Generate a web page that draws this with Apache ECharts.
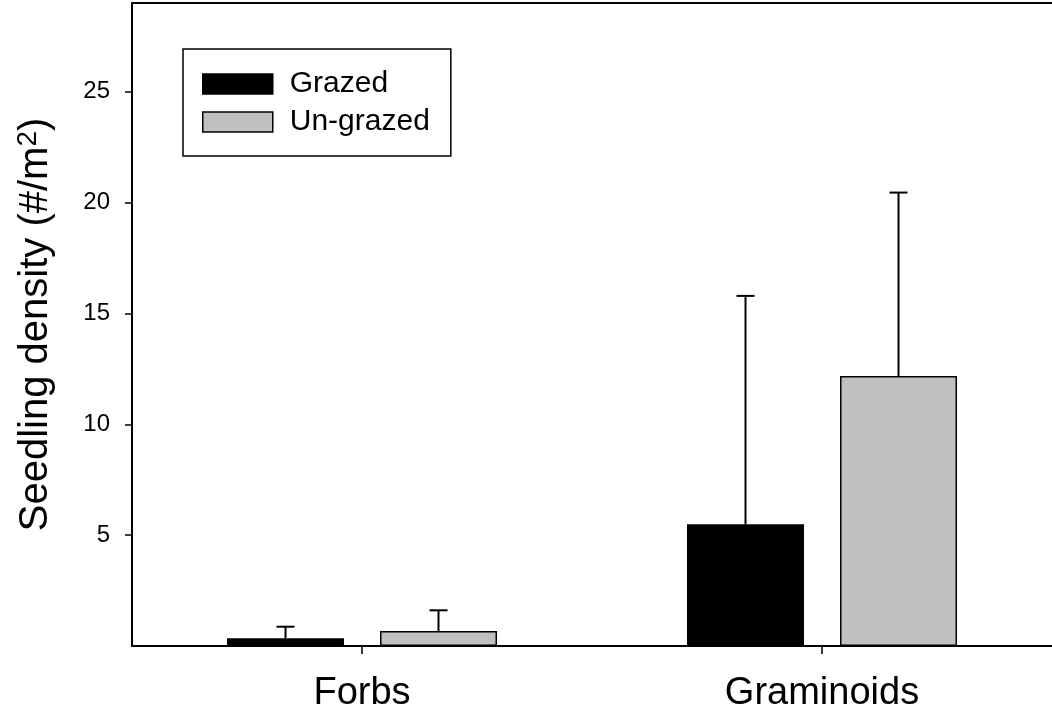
<!DOCTYPE html>
<html>
<head>
<meta charset="utf-8">
<style>
  html, body { margin: 0; padding: 0; background: #fff; }
  #chart { width: 1052px; height: 718px; }
</style>
<script src="https://cdn.jsdelivr.net/npm/echarts@6/dist/echarts.min.js"></script>
</head>
<body>
<div id="chart"></div>
<script>
// Seedling density by plant group, grazed vs un-grazed (mean + SE)
const categories = ['Forbs', 'Graminoids'];
const seriesNames = ['Grazed', 'Un-grazed'];
const grazedMean = [0.35, 5.49];
const grazedErr = [0.52, 10.30];
const ungrazedMean = [0.68, 12.18];
const ungrazedErr = [0.93, 8.27];
const yTicks = [5, 10, 15, 20, 25];

const FONT = '"Liberation Sans", Arial, sans-serif';
const BAR_W = 117;
const BAR_GAP = 36;
const CAP_HALF = 9;

const chart = echarts.init(document.getElementById('chart'));

// Upward error whisker with a cap, placed over the bar of the given series slot
function errorBarSeries(means, errs, slot) {
  const data = means.map((m, i) => [i, m, m + errs[i]]);
  return {
    type: 'custom',
    z: 5,
    silent: true,
    data: data,
    encode: { x: 0, y: [1, 2] },
    renderItem: function (params, api) {
      const off = (slot === 0 ? -1 : 1) * (BAR_W + BAR_GAP) / 2;
      const lo = api.coord([api.value(0), api.value(1)]);
      const hi = api.coord([api.value(0), api.value(2)]);
      const x = lo[0] + off;
      const style = { stroke: '#000', lineWidth: 2 };
      return {
        type: 'group',
        children: [
          { type: 'line', shape: { x1: x, y1: lo[1], x2: x, y2: hi[1] }, style: style },
          { type: 'line', shape: { x1: x - CAP_HALF, y1: hi[1], x2: x + CAP_HALF, y2: hi[1] }, style: style }
        ]
      };
    }
  };
}

chart.setOption({
  animation: false,
  backgroundColor: '#fff',
  textStyle: { fontFamily: FONT },
  grid: { left: 132, right: 0, top: 3, bottom: 72, containLabel: false },
  legend: {
    orient: 'vertical',
    left: 183,
    top: 49,
    padding: [20, 21, 19, 19],
    borderColor: '#000',
    borderWidth: 1.5,
    itemWidth: 70,
    itemHeight: 20,
    itemGap: 8,
    icon: 'rect',
    selectedMode: false,
    data: seriesNames,
    textStyle: { fontFamily: FONT, fontSize: 30, color: '#000', padding: [0, 0, 0, 12] },
    itemStyle: { borderColor: '#000', borderWidth: 1.5 }
  },
  xAxis: [
    {
      type: 'category',
      data: categories,
      axisLine: { show: true, onZero: false, lineStyle: { color: '#000', width: 2 } },
      axisTick: { show: true, alignWithLabel: true, length: 8, lineStyle: { color: '#000', width: 1.5 } },
      axisLabel: { fontFamily: FONT, fontSize: 38, color: '#000', margin: 29 },
      splitLine: { show: false }
    },
    {
      type: 'category',
      position: 'top',
      data: categories,
      axisLine: { show: true, onZero: false, lineStyle: { color: '#000', width: 2 } },
      axisTick: { show: false },
      axisLabel: { show: false },
      splitLine: { show: false }
    }
  ],
  yAxis: [
    {
      type: 'value',
      min: 0,
      max: 29,
      interval: 5,
      name: 'Seedling density (#/m{sup|2})',
      nameLocation: 'middle',
      nameRotate: 90,
      nameGap: 74,
      nameTextStyle: {
        fontFamily: FONT, fontSize: 40, color: '#000',
        rich: {
          sup: { fontFamily: FONT, fontSize: 28, color: '#000', verticalAlign: 'top', padding: [0, 0, 16, 0] }
        }
      },
      axisLine: { show: true, lineStyle: { color: '#000', width: 2 } },
      axisTick: { show: true, length: 7, customValues: yTicks, lineStyle: { color: '#000', width: 1.5 } },
      axisLabel: { fontFamily: FONT, fontSize: 24, color: '#000', margin: 22, customValues: yTicks },
      splitLine: { show: false }
    },
    {
      type: 'value',
      position: 'right',
      min: 0,
      max: 29,
      axisLine: { show: true, lineStyle: { color: '#d0d0d0', width: 1 } },
      axisTick: { show: false },
      axisLabel: { show: false },
      splitLine: { show: false }
    }
  ],
  series: [
    {
      name: seriesNames[0],
      type: 'bar',
      data: grazedMean,
      barWidth: BAR_W,
      barGap: (BAR_GAP / BAR_W * 100).toFixed(1) + '%',
      itemStyle: { color: '#000', borderColor: '#000', borderWidth: 1.5 }
    },
    {
      name: seriesNames[1],
      type: 'bar',
      data: ungrazedMean,
      barWidth: BAR_W,
      itemStyle: { color: '#c0c0c0', borderColor: '#000', borderWidth: 1.5 }
    },
    errorBarSeries(grazedMean, grazedErr, 0),
    errorBarSeries(ungrazedMean, ungrazedErr, 1)
  ]
});
</script>
</body>
</html>
